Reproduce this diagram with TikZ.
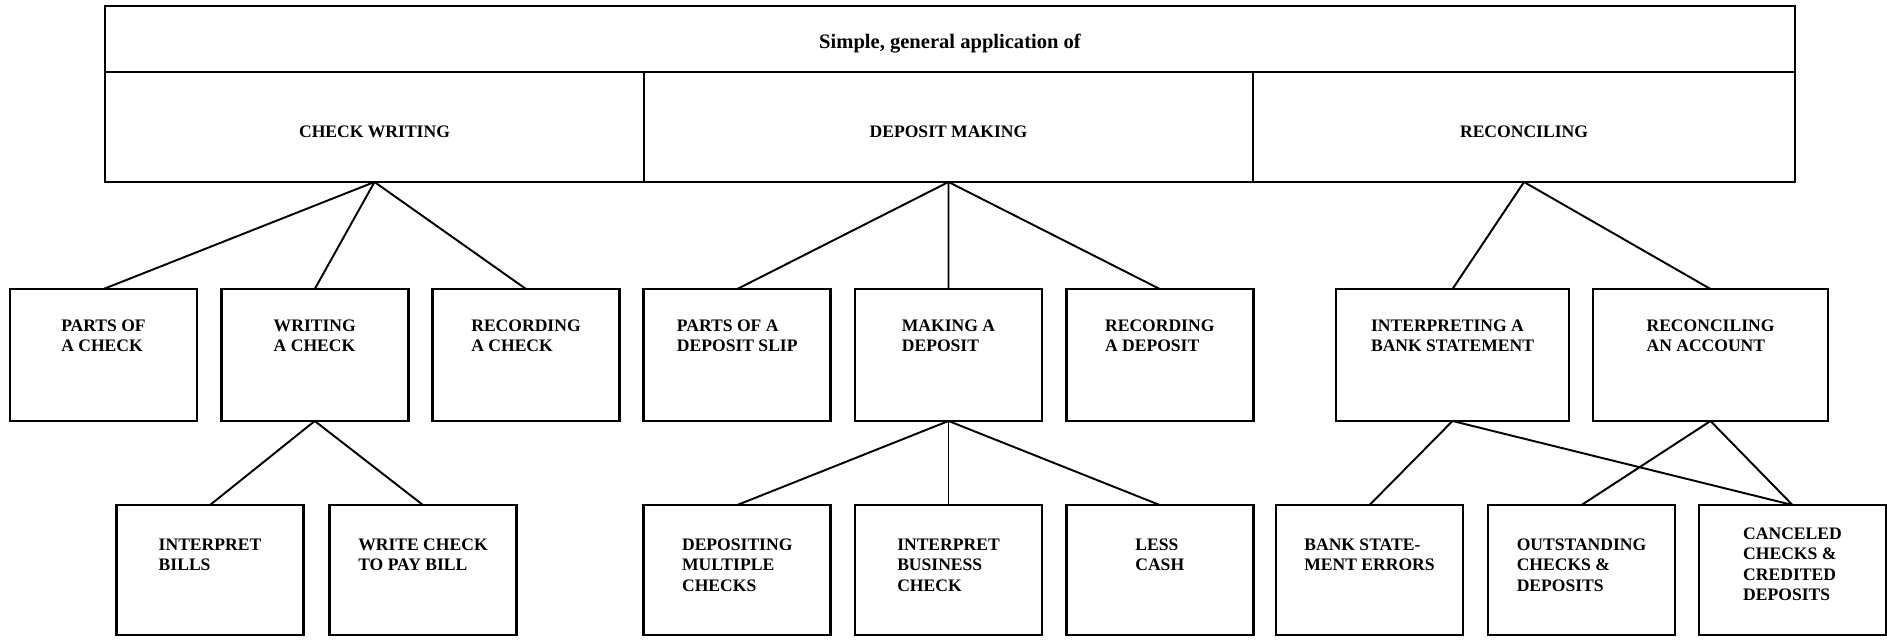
\documentclass[tikz,border=0pt]{standalone}
\usepackage{fontspec}
\setmainfont{Liberation Serif}
\usetikzlibrary{positioning}
\newcommand{\toptext}[2][0.19cm]{\parbox[c][1.9cm][t]{3.6cm}{\vspace*{#1}\centering\noindent\begin{tabular}{@{}l@{}}#2\end{tabular}}}

\begin{document}
\begin{tikzpicture}[semithick, font=\bfseries\fontsize{10}{11.6}\selectfont,
  cell/.style={draw, line width=1.6pt, outer sep=0pt, minimum height=2.2cm, inner sep=0pt, text height=0.43cm, text depth=0pt},
  task/.style={draw, line width=1.6pt, outer sep=0pt, minimum width=3.74cm, minimum height=2.64cm, inner sep=0pt},
  subtask/.style={task, minimum height=2.6cm},
  link/.style={line width=1.1pt}]
%
\useasboundingbox (0,0) rectangle (37.74,-12.78);
%
\node (head) [cell, minimum width=33.8cm, minimum height=1.32cm, text height=0.39cm, font=\bfseries\fontsize{11.7}{13}\selectfont] at (19,-0.78) {Simple, general application of};
\node (cw) [cell, minimum width=10.78cm, below right=0cm and 0cm of head.south west] {CHECK WRITING};
\node (dm) [cell, minimum width=12.18cm, right=0cm of cw] {DEPOSIT MAKING};
\node (rc) [cell, minimum width=10.84cm, right=0cm of dm] {RECONCILING};
%
\node (pc) [task] at (2.07,-7.10) {\toptext{PARTS OF\\A CHECK}};
\node (wc) [task, right=0.485cm of pc] {\toptext{WRITING\\A CHECK}};
\node (rcc) [task, right=0.485cm of wc] {\toptext{RECORDING\\A CHECK}};
\node (pds) [task, right=0.485cm of rcc] {\toptext{PARTS OF A\\DEPOSIT SLIP}};
\node (md) [task, right=0.485cm of pds] {\toptext{MAKING A\\DEPOSIT}};
\node (rd) [task, right=0.485cm of md] {\toptext{RECORDING\\A DEPOSIT}};
\node (ibs) [task, minimum width=4.66cm] at (29.05,-7.10) {\toptext{INTERPRETING A\\BANK STATEMENT}};
\node (ra) [task, minimum width=4.7cm, right=0.48cm of ibs] {\toptext{RECONCILING\\AN ACCOUNT}};
%
\node (ib) [subtask] at (4.2,-11.4) {\toptext[0.27cm]{INTERPRET\\BILLS}};
\node (wcp) [subtask, right=0.52cm of ib] {\toptext[0.27cm]{WRITE CHECK\\TO PAY BILL}};
\node (dmc) [subtask, below=1.68cm of pds] {\toptext[0.27cm]{DEPOSITING\\MULTIPLE\\CHECKS}};
\node (ibc) [subtask, below=1.68cm of md] {\toptext[0.27cm]{INTERPRET\\BUSINESS\\CHECK}};
\node (lc) [subtask, below=1.68cm of rd] {\toptext[0.27cm]{LESS\\CASH}};
\node (bse) [subtask] at (27.39,-11.4) {\toptext[0.27cm]{BANK STATE-\\MENT ERRORS}};
\node (ocd) [subtask, right=0.5cm of bse] {\toptext[0.27cm]{OUTSTANDING\\CHECKS \&\\DEPOSITS}};
\node (ccd) [subtask, right=0.48cm of ocd] {\toptext[0.05cm]{CANCELED\\CHECKS \&\\CREDITED\\DEPOSITS}};
%
\draw[link] (cw.south) -- (pc.north);
\draw[link] (cw.south) -- (wc.north);
\draw[link] (cw.south) -- (rcc.north);
\draw[link] (dm.south) -- (pds.north);
\draw[link] (dm.south) -- (md.north);
\draw[link] (dm.south) -- (rd.north);
\draw[link] (rc.south) -- (ibs.north);
\draw[link] (rc.south) -- (ra.north);
%
\draw[link] (wc.south) -- (ib.north);
\draw[link] (wc.south) -- (wcp.north);
\draw[link] (md.south) -- (dmc.north);
\draw[link] (md.south) -- (ibc.north);
\draw[link] (md.south) -- (lc.north);
\draw[link] (ibs.south) -- (bse.north);
\draw[link] (ibs.south) -- (ccd.north);
\draw[link] (ra.south) -- (ocd.north);
\draw[link] (ra.south) -- (ccd.north);
\end{tikzpicture}
\end{document}
